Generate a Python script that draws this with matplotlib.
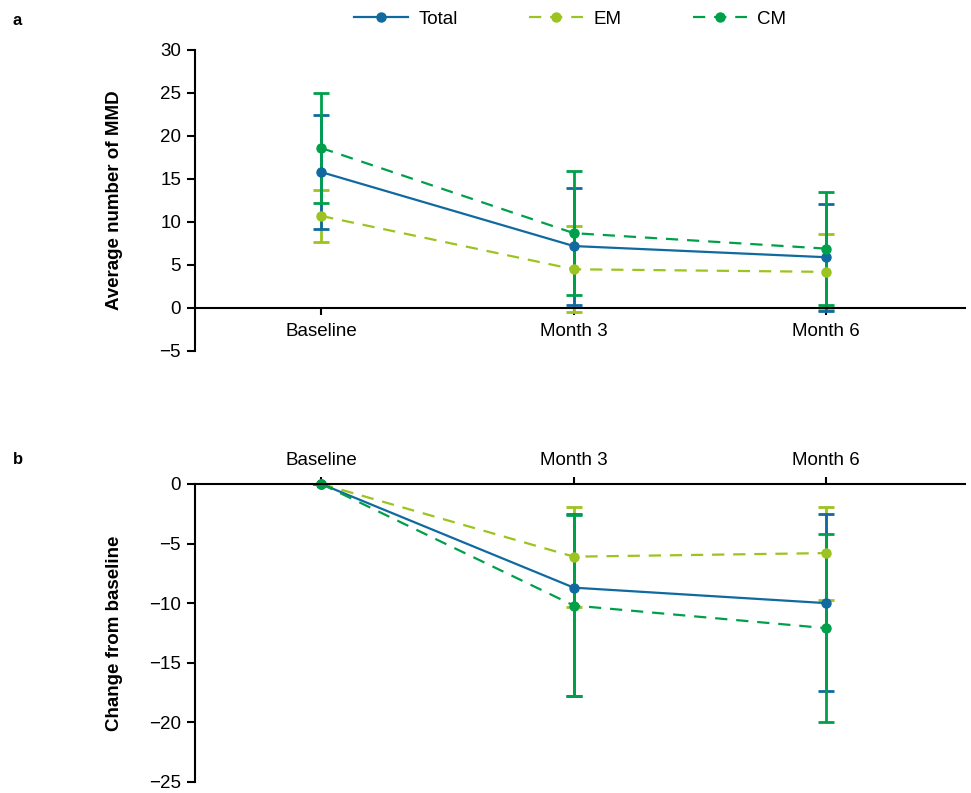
import matplotlib.pyplot as plt

plt.rcParams['font.family'] = ['Liberation Sans', 'DejaVu Sans']

timepoints = ['Baseline', 'Month 3', 'Month 6']

# panel a: average MMD (mean and SD)
total_mean = [15.8, 7.2, 5.9]
total_sd = [6.6, 6.8, 6.2]
em_mean = [10.7, 4.5, 4.2]
em_sd = [3.0, 5.0, 4.4]
cm_mean = [18.6, 8.7, 6.9]
cm_sd = [6.4, 7.2, 6.6]

# panel b: change from baseline
total_chg = [0, -8.7, -10.0]
total_chg_lo = [0, 9.1, 7.4]
total_chg_hi = [0, 6.2, 7.5]
em_chg = [0, -6.1, -5.8]
em_chg_sd = [0, 4.2, 3.9]
cm_chg = [0, -10.2, -12.1]
cm_chg_sd = [0, 7.6, 7.9]

c_total = '#106aa0'
c_em = '#9cc31f'
c_cm = '#00a04b'

fs = 13.5

fig = plt.figure(figsize=(9.71, 7.93), dpi=100)
ax1 = fig.add_axes([0.2008, 0.5574, 0.7932, 0.3796])
ax2 = fig.add_axes([0.2008, 0.0140, 0.7932, 0.3757])

x = list(range(len(timepoints)))


def style(col, ls, lab):
    kw = dict(color=col, lw=1.6, marker='o', ms=6.5, capsize=5.5,
              elinewidth=2, capthick=2, label=lab)
    if ls == '--':
        kw['dashes'] = (5.5, 4)
    return kw


ax1.errorbar(x, em_mean, yerr=em_sd, **style(c_em, '--', 'EM'))
ax1.errorbar(x, total_mean, yerr=total_sd, **style(c_total, '-', 'Total'))
ax1.errorbar(x, cm_mean, yerr=cm_sd, **style(c_cm, '--', 'CM'))

ax2.errorbar(x, em_chg, yerr=em_chg_sd, **style(c_em, '--', 'EM'))
ax2.errorbar(x, total_chg, yerr=[total_chg_lo, total_chg_hi], **style(c_total, '-', 'Total'))
ax2.errorbar(x, cm_chg, yerr=cm_chg_sd, **style(c_cm, '--', 'CM'))

# axes a
ax1.set_xlim(-0.5, 2.55)
ax1.set_ylim(-5, 30)
ax1.set_yticks(range(-5, 31, 5))
ax1.spines['top'].set_visible(False)
ax1.spines['right'].set_visible(False)
ax1.spines['bottom'].set_position(('data', 0))
ax1.set_xticks(x)
ax1.set_xticklabels(timepoints)
ax1.tick_params(axis='x', direction='out', length=5, width=1.5, labelsize=fs, pad=6)
ax1.tick_params(axis='y', direction='out', length=6, width=1.5, labelsize=fs, pad=4)
ax1.spines['left'].set_linewidth(1.5)
ax1.spines['bottom'].set_linewidth(1.5)
ax1.set_ylabel('Average number of MMD', fontsize=fs, fontweight='bold')
ax1.yaxis.set_label_coords(-0.0935, 0.5)

# axes b
ax2.set_xlim(-0.5, 2.55)
ax2.set_ylim(-25, 0)
ax2.set_yticks(range(-25, 1, 5))
ax2.spines['bottom'].set_visible(False)
ax2.spines['right'].set_visible(False)
ax2.xaxis.tick_top()
ax2.set_xticks(x)
ax2.set_xticklabels(timepoints)
ax2.tick_params(axis='x', direction='out', length=5, width=1.5, labelsize=fs, pad=6)
ax2.tick_params(axis='y', direction='out', length=6, width=1.5, labelsize=fs, pad=4)
ax2.spines['left'].set_linewidth(1.5)
ax2.spines['top'].set_linewidth(1.5)
ax2.set_ylabel('Change from baseline', fontsize=fs, fontweight='bold')
ax2.yaxis.set_label_coords(-0.0935, 0.5)
for ax in (ax1, ax2):
    for a in ax.get_children():
        try:
            a.set_clip_on(False)
        except Exception:
            pass

fig.text(0.013, 0.968, 'a', fontsize=12, fontweight='bold')
fig.text(0.013, 0.415, 'b', fontsize=12, fontweight='bold')

# legend
h, l = ax1.get_legend_handles_labels()
order = [l.index('Total'), l.index('EM'), l.index('CM')]
fig.legend([h[i][0] for i in order], [l[i] for i in order], loc='center',
           bbox_to_anchor=(0.587, 0.976), ncol=3, frameon=False, fontsize=fs,
           handlelength=2.9, columnspacing=3.8, handletextpad=0.55)

fig.savefig('out.png', dpi=100)
